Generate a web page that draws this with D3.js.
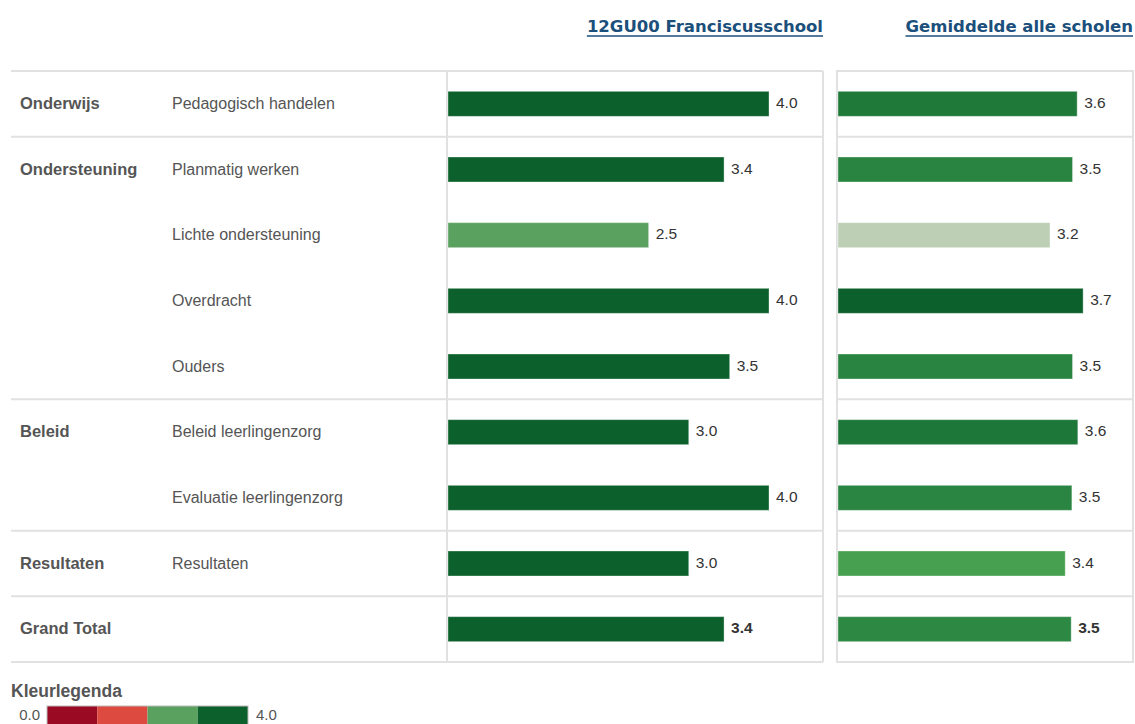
<!DOCTYPE html>
<html lang="nl">
  <head>
    <meta charset="utf-8"/>
    <script src="https://d3js.org/d3.v7.min.js"></script>
    <title>Franciscusschool</title>
    <style>
      body { margin: 0; background: #fff; }
      text { font-family: "Liberation Sans", Arial, sans-serif; }
    </style>
  </head>
  <body>
    <div id="chart"></div>
    <script>
      const width = 1135;
      const height = 724;

      // data
      const groups = ["Onderwijs", "Ondersteuning", "Ondersteuning", "Ondersteuning", "Ondersteuning",
                      "Beleid", "Beleid", "Resultaten", "Grand Total"];
      const items = ["Pedagogisch handelen", "Planmatig werken", "Lichte ondersteuning", "Overdracht",
                     "Ouders", "Beleid leerlingenzorg", "Evaluatie leerlingenzorg", "Resultaten", ""];
      const schoolValues = [4.0, 3.44, 2.5, 4.0, 3.51, 3.0, 4.0, 3.0, 3.44];
      const avgValues = [3.61, 3.54, 3.2, 3.7, 3.54, 3.62, 3.53, 3.43, 3.52];
      const headers = ["12GU00 Franciscusschool", "Gemiddelde alle scholen"];
      const legendTicks = ["0.0", "4.0"];
      const legendSteps = [1, 2, 3];

      const legendColors = ["#9b0a23", "#dd4b40", "#5aa05f", "#0b602c"];
      const avgStops = [3.2, 3.43, 3.53, 3.61, 3.7];
      const avgColors = ["#bdd0b5", "#47a050", "#2a8542", "#1f7a3a", "#0b602c"];

      const svg = d3.select("#chart").append("svg")
        .attr("width", width)
        .attr("height", height);

      const rows = d3.range(items.length);
      const y = d3.scaleBand().domain(rows).range([71, 662]);
      const xLeft = d3.scaleLinear().domain([0, 4]).range([448, 769]);
      const xRight = d3.scaleLinear().domain([0, 4]).range([838, 1103]);

      const colorLeft = d3.scaleThreshold().domain(legendSteps).range(legendColors);
      const colorRight = d3.scaleLinear().domain(avgStops).range(avgColors).clamp(true);

      const gridColor = "#e1e1e1";

      // header links
      const hdr = svg.append("g");
      [[823, headers[0]], [1133, headers[1]]].forEach(([x, t]) => {
        const txt = hdr.append("text")
          .attr("x", x).attr("y", 32)
          .attr("text-anchor", "end")
          .style("font-family", "'DejaVu Sans', Verdana, sans-serif")
          .style("font-weight", "bold")
          .style("font-size", "16.5px")
          .attr("fill", "#1b4f7c")
          .text(t);
        const bb = txt.node().getBBox();
        hdr.append("line")
          .attr("x1", bb.x).attr("x2", bb.x + bb.width)
          .attr("y1", 36).attr("y2", 36)
          .attr("stroke", "#1b4f7c").attr("stroke-width", 1.5);
      });

      // group boundaries
      const boundaries = rows.filter(i => i === 0 || groups[i] !== groups[i - 1]);
      const lineYs = boundaries.map(i => y(i)).concat([y.range()[1]]);

      const grid = svg.append("g")
        .attr("stroke", gridColor)
        .attr("stroke-width", 2);

      lineYs.forEach(ly => {
        grid.append("line").attr("x1", 11).attr("x2", 823).attr("y1", ly).attr("y2", ly);
        grid.append("line").attr("x1", 836).attr("x2", 1134).attr("y1", ly).attr("y2", ly);
      });
      [447, 823, 837, 1133].forEach(lx => {
        grid.append("line").attr("x1", lx).attr("x2", lx).attr("y1", 71).attr("y2", 662);
      });

      // row labels
      const labels = svg.append("g");
      labels.selectAll(".grp")
        .data(boundaries)
        .join("text")
        .attr("x", 20)
        .attr("y", i => y(i) + y.bandwidth() / 2 + 5)
        .style("font-size", "16.5px")
        .style("font-weight", "bold")
        .attr("fill", "#555")
        .text(i => groups[i]);

      labels.selectAll(".item")
        .data(rows)
        .join("text")
        .attr("x", 172)
        .attr("y", i => y(i) + y.bandwidth() / 2 + 5)
        .style("font-size", "16px")
        .attr("fill", "#555")
        .text(i => items[i]);

      // bars
      const barH = 25;
      function drawBars(values, x, color) {
        const g = svg.append("g");
        g.selectAll("rect")
          .data(values)
          .join("rect")
          .attr("x", x(0))
          .attr("y", (d, i) => y(i) + y.bandwidth() / 2 - barH / 2)
          .attr("width", d => x(d) - x(0))
          .attr("height", barH)
          .attr("fill", d => color(d))
          .attr("stroke", "#ffffff")
          .attr("stroke-opacity", 0.35)
          .attr("stroke-width", 1);
        g.selectAll("text")
          .data(values)
          .join("text")
          .attr("x", d => x(d) + 7)
          .attr("y", (d, i) => y(i) + y.bandwidth() / 2 + 4)
          .style("font-size", "15.5px")
          .style("font-weight", (d, i) => i === values.length - 1 ? "bold" : "normal")
          .attr("fill", "#333")
          .text(d => d3.format(".1f")(d));
      }
      drawBars(schoolValues, xLeft, colorLeft);
      drawBars(avgValues, xRight, colorRight);

      // legend
      const leg = svg.append("g");
      leg.append("text")
        .attr("x", 11).attr("y", 697)
        .style("font-size", "17.5px")
        .style("font-weight", "bold")
        .attr("fill", "#555")
        .text("Kleurlegenda");
      const lx = d3.scaleLinear().domain([0, 4]).range([47, 248]);
      leg.selectAll("rect")
        .data(legendColors)
        .join("rect")
        .attr("x", (d, i) => lx(i))
        .attr("y", 706)
        .attr("width", lx(1) - lx(0))
        .attr("height", 20)
        .attr("fill", d => d);
      leg.append("rect")
        .attr("x", lx(0)).attr("y", 706)
        .attr("width", lx(4) - lx(0)).attr("height", 20)
        .attr("fill", "none").attr("stroke", "#bbb");
      leg.append("text")
        .attr("x", 40).attr("y", 720).attr("text-anchor", "end")
        .style("font-size", "15px").attr("fill", "#555")
        .text(legendTicks[0]);
      leg.append("text")
        .attr("x", 256).attr("y", 720)
        .style("font-size", "15px").attr("fill", "#555")
        .text(legendTicks[1]);
    </script>
  </body>
</html>
